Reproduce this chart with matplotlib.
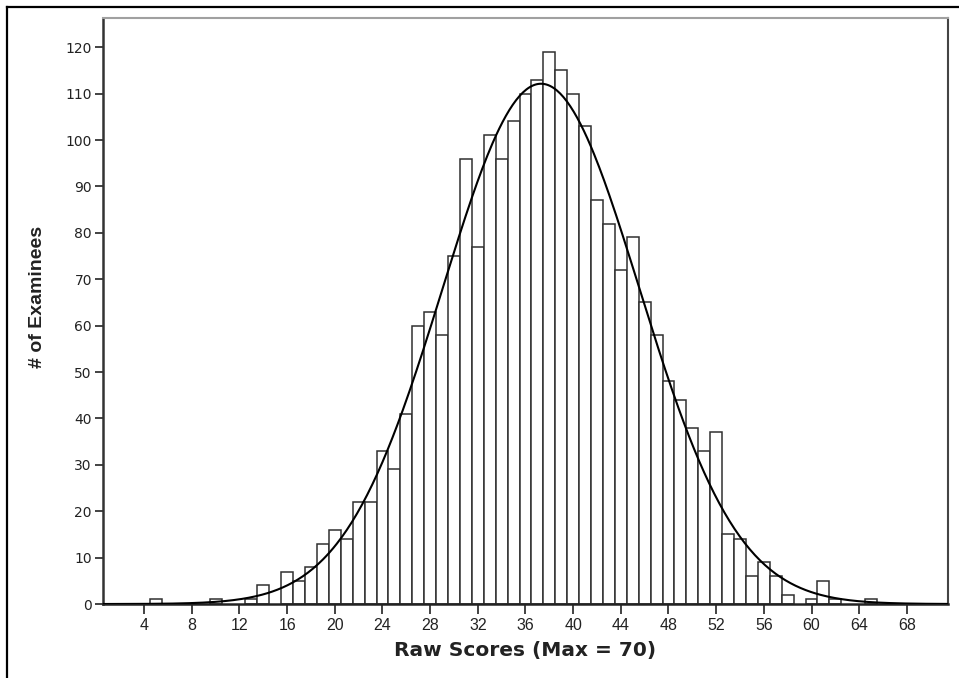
import numpy as np
import matplotlib
matplotlib.use("Agg")
import matplotlib.pyplot as plt
from matplotlib.lines import Line2D

# raw score -> number of examinees (scores not listed had no examinees)
scores = [5, 10, 13, 14, 16, 17, 18, 19, 20, 21, 22, 23, 24, 25, 26, 27, 28,
          29, 30, 31, 32, 33, 34, 35, 36, 37, 38, 39, 40, 41, 42, 43, 44, 45,
          46, 47, 48, 49, 50, 51, 52, 53, 54, 55, 56, 57, 58, 60, 61, 62, 65]
counts = [1, 1, 1, 4, 7, 5, 8, 13, 16, 14, 22, 22, 33, 29, 41, 60, 63,
          58, 75, 96, 77, 101, 96, 104, 110, 113, 119, 115, 110, 103, 87, 82, 72, 79,
          65, 58, 48, 44, 38, 33, 37, 15, 14, 6, 9, 6, 2, 1, 5, 1, 1]
xticks = list(range(4, 69, 4))
yticks = list(range(0, 121, 10))

scores = np.array(scores, dtype=float)
counts = np.array(counts, dtype=float)
n = counts.sum()
mu = (scores * counts).sum() / n
sd = np.sqrt((counts * (scores - mu) ** 2).sum() / (n - 1))

fig = plt.figure(figsize=(9.59, 6.78), dpi=100)
ax = fig.add_axes([0.1074, 0.1091, 0.8811, 0.8644])

ax.bar(scores, counts, width=1.0, facecolor="white", edgecolor="#303030",
       linewidth=1.1, zorder=2)

xlo, xhi = 0.55, 71.45
xs = np.linspace(xlo, xhi, 500)
pdf = n / (sd * np.sqrt(2 * np.pi)) * np.exp(-0.5 * ((xs - mu) / sd) ** 2)
ax.plot(xs, pdf, color="black", lw=1.5, zorder=3)

ax.set_xlim(xlo, xhi)
ax.set_ylim(0, 126.3)
ax.set_xticks(xticks)
ax.set_yticks(yticks)
ax.set_xticklabels([str(t) for t in xticks], family="Liberation Sans",
                   fontsize=11.5, color="#222222")
ax.set_yticklabels([str(t) for t in yticks], family="DejaVu Sans", fontsize=10,
                   color="#222222")
ax.tick_params(axis="x", direction="out", length=7, width=1.2, pad=3, color="#222222")
ax.tick_params(axis="y", direction="out", length=6, width=1.2, pad=2, color="#222222")

ax.spines["left"].set_color("#333333")
ax.spines["left"].set_linewidth(1.8)
ax.spines["bottom"].set_color("#222222")
ax.spines["bottom"].set_linewidth(1.8)
ax.spines["top"].set_color("#a0a0a0")
ax.spines["top"].set_linewidth(1.5)
ax.spines["right"].set_color("#444444")
ax.spines["right"].set_linewidth(1.5)

ax.set_xlabel("Raw Scores (Max = 70)", family="DejaVu Sans", fontweight="bold",
              fontsize=14.5, labelpad=6, color="#222222")
ax.set_ylabel("# of Examinees", family="Liberation Sans",
              fontweight="bold", fontsize=14, color="#222222")
ax.yaxis.set_label_coords(-0.068, 0.524)

# outer frame (top and left edges only)
fig.add_artist(Line2D([7 / 959, 7 / 959], [0, 1 - 7 / 678], transform=fig.transFigure,
                      color="black", lw=1.6))
fig.add_artist(Line2D([7 / 959, 1], [1 - 7 / 678, 1 - 7 / 678], transform=fig.transFigure,
                      color="black", lw=1.6))

fig.savefig("out.png", dpi=100)
